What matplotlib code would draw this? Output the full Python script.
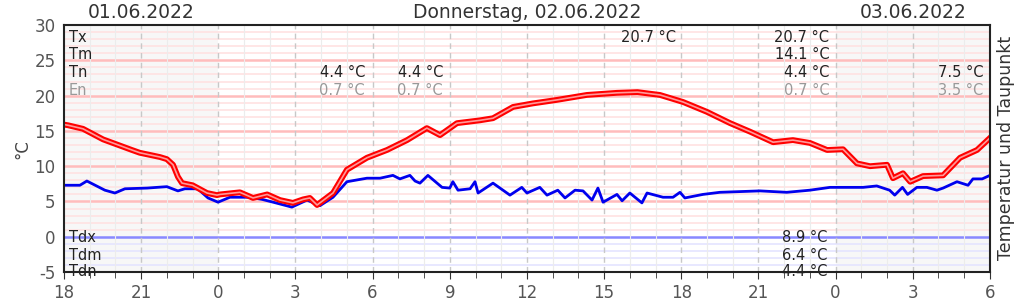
import matplotlib
matplotlib.use("Agg")
import matplotlib.pyplot as plt
import matplotlib.patheffects as pe
from matplotlib.ticker import MultipleLocator, FixedLocator

plt.rcParams['axes.unicode_minus'] = False

# Stunden ab 01.06.2022 18:00
temp_h = [0, 0.16, 0.74, 1.52, 2.64, 2.95, 3.73, 4.0, 4.24, 4.43, 4.59, 5.0, 5.56, 5.95,
          6.07, 6.84, 7.35, 7.9, 8.4, 8.9, 9.3, 9.56, 9.84, 10.46, 11.0, 11.78, 12.56,
          13.34, 14.11, 14.62, 15.28, 16.17, 16.68, 17.46, 18.23, 19.17, 20.33, 21.5,
          22.3, 23.17, 24.07, 25.0, 25.9, 26.67, 27.57, 28.34, 29.0, 29.67, 30.29, 30.83,
          31.34, 32.0, 32.23, 32.62, 32.9, 33.4, 34.18, 34.84, 35.5, 36]
temp = [15.9, 15.8, 15.3, 13.8, 12.3, 11.9, 11.3, 11.0, 10.2, 8.5, 7.6, 7.3, 6.2, 5.9,
        6.0, 6.3, 5.5, 6.0, 5.2, 4.8, 5.3, 5.5, 4.5, 6.2, 9.5, 11.2, 12.3,
        13.7, 15.4, 14.4, 16.1, 16.5, 16.8, 18.4, 18.9, 19.4, 20.1, 20.4,
        20.5, 20.1, 19.1, 17.7, 16.1, 14.9, 13.4, 13.7, 13.3, 12.3, 12.4, 10.4,
        10.0, 10.2, 8.3, 9.0, 7.8, 8.6, 8.7, 11.2, 12.3, 14.0]

dew_h = [0, 0.62, 0.89, 1.59, 1.98, 2.37, 3.23, 4.0, 4.43, 4.7, 5.2, 5.6, 5.99, 6.45,
         7.23, 7.7, 8.13, 8.86, 9.45, 9.95, 10.46, 11.0, 11.31, 11.78, 12.29, 12.79,
         13.06, 13.45, 13.65, 13.84, 14.15, 14.7, 15.0, 15.12, 15.32, 15.79, 15.98,
         16.1, 16.68, 17.34, 17.8, 18.0, 18.5, 18.78, 19.2, 19.48, 19.87, 20.18, 20.53,
         20.76, 20.96, 21.5, 21.7, 22.0, 22.47, 22.67, 23.29, 23.68, 23.95, 24.14,
         24.84, 25.5, 27.06, 28.1, 29.0, 29.78, 31.07, 31.6, 32.1, 32.3, 32.6, 32.8,
         33.16, 33.55, 33.94, 34.18, 34.72, 35.15, 35.34, 35.7, 36]
dew = [7.3, 7.3, 7.9, 6.6, 6.2, 6.8, 6.9, 7.1, 6.5, 6.8, 6.8, 5.5, 4.9, 5.6,
       5.6, 5.3, 4.9, 4.2, 5.2, 4.4, 5.6, 7.8, 8.0, 8.3, 8.3, 8.7,
       8.2, 8.7, 7.9, 7.6, 8.7, 7.0, 6.9, 7.8, 6.6, 6.8, 7.8,
       6.2, 7.6, 5.9, 7.0, 6.2, 7.0, 5.9, 6.6, 5.5, 6.6, 6.5, 5.2,
       6.9, 4.9, 6.0, 5.1, 6.2, 4.8, 6.2, 5.6, 5.6, 6.3, 5.5,
       6.0, 6.3, 6.5, 6.3, 6.6, 7.0, 7.0, 7.2, 6.6, 5.9, 7.0, 6.0,
       7.0, 7.0, 6.6, 6.9, 7.8, 7.3, 8.2, 8.2, 8.7]

tick_hours = list(range(0, 37, 3))
tick_labels = ['18', '21', '0', '3', '6', '9', '12', '15', '18', '21', '0', '3', '6']
day_titles = ['01.06.2022', 'Donnerstag, 02.06.2022', '03.06.2022']
day_centers = [3, 18, 33]

# Zeilen oben (Label, Farbe, y in Achsenanteilen)
row_labels = ['Tx', 'Tm', 'Tn', 'En']
row_colors = ['#222222', '#222222', '#222222', '#999999']
row_y = [0.951, 0.879, 0.806, 0.737]
dew_labels = ['Tdx', 'Tdm', 'Tdn']
dew_y = [0.138, 0.065, 0.004]

# Werte: (Stunde rechter Rand, Zeile, Text)
value_texts = [
    (11.7, 2, '4.4 °C'), (11.7, 3, '0.7 °C'),
    (14.74, 2, '4.4 °C'), (14.74, 3, '0.7 °C'),
    (23.8, 0, '20.7 °C'),
    (29.75, 0, '20.7 °C'), (29.75, 1, '14.1 °C'), (29.75, 2, '4.4 °C'), (29.75, 3, '0.7 °C'),
    (35.75, 2, '7.5 °C'), (35.75, 3, '3.5 °C'),
]
dew_values = ['8.9 °C', '6.4 °C', '4.4 °C']

fig = plt.figure(figsize=(10.22, 3.06), dpi=100)
ax = fig.add_axes([0.0626, 0.111, 0.906, 0.807])
ax.set_xlim(0, 36)
ax.set_ylim(-5, 30)

# Hintergrund ausserhalb des Haupttages
ax.axvspan(0, 6, color='#f7f7f7', zorder=0, lw=0)
ax.axvspan(30, 36, color='#f7f7f7', zorder=0, lw=0)

# Gitter
for v in range(-4, 30):
    if v == 0:
        ax.axhline(v, color='#8888ff', lw=1.8, zorder=1)
    elif v < 0:
        ax.axhline(v, color='#e4e4ff', lw=1.2, zorder=1)
    elif v % 5 == 0:
        ax.axhline(v, color='#ffbcbc', lw=1.8, zorder=1)
    else:
        ax.axhline(v, color='#ffe2e2', lw=1.2, zorder=1)
for h in range(1, 36):
    if h % 3 == 0:
        ax.axvline(h, color='#c8c8c8', lw=1.0, ls=(0, (4, 3)), zorder=1.5)
    else:
        ax.axvline(h, color='#ececec', lw=0.8, zorder=1.2)

# Daten
ax.plot(temp_h, temp, color='#ff0000', lw=1.2, zorder=4,
        path_effects=[pe.Stroke(linewidth=4.2, foreground='#ff0000'),
                      pe.Stroke(linewidth=1.2, foreground='#ff9a9a')])
ax.plot(dew_h, dew, color='#0000ee', lw=2.0, zorder=3)

# Texte
xt = ax.get_xaxis_transform()
for lab, col, y in zip(row_labels, row_colors, row_y):
    ax.text(0.005, y, lab, transform=ax.transAxes, color=col, fontsize=10.5,
            va='center', ha='left', zorder=5)
for lab, y in zip(dew_labels, dew_y):
    ax.text(0.005, y, lab, transform=ax.transAxes, color='#222222', fontsize=10.5,
            va='center', ha='left', zorder=5)
for h, row, txt in value_texts:
    ax.text(h, row_y[row], txt, transform=xt, fontsize=10.5,
            color=row_colors[row], ha='right', va='center', zorder=5)
for txt, y in zip(dew_values, dew_y):
    ax.text(29.7, y, txt, transform=xt, fontsize=10.5,
            color='#222222', ha='right', va='center', zorder=5)

for c, title in zip(day_centers, day_titles):
    ax.text(c, 1.012, title, transform=xt, fontsize=13.5,
            color='#333333', ha='center', va='bottom')

# Achsen
ax.xaxis.set_major_locator(FixedLocator(tick_hours))
ax.set_xticklabels(tick_labels)
ax.xaxis.set_minor_locator(MultipleLocator(1))
ax.yaxis.set_major_locator(MultipleLocator(5))
ax.tick_params(axis='both', which='major', labelsize=12, labelcolor='#555555',
               color='#333333', length=5)
ax.tick_params(axis='x', which='minor', length=4, color='#333333')
ax.tick_params(axis='y', which='major', length=0, pad=6)
for s in ax.spines.values():
    s.set_color('#222222')
    s.set_linewidth(1.5)
    s.set_zorder(6)

ax.set_ylabel('°C', fontsize=12, color='#444444', labelpad=2)
fig.text(0.984, 0.515, 'Temperatur und Taupunkt', rotation=90, fontsize=12.5,
         color='#333333', ha='center', va='center')

fig.savefig('out.png', dpi=100)
